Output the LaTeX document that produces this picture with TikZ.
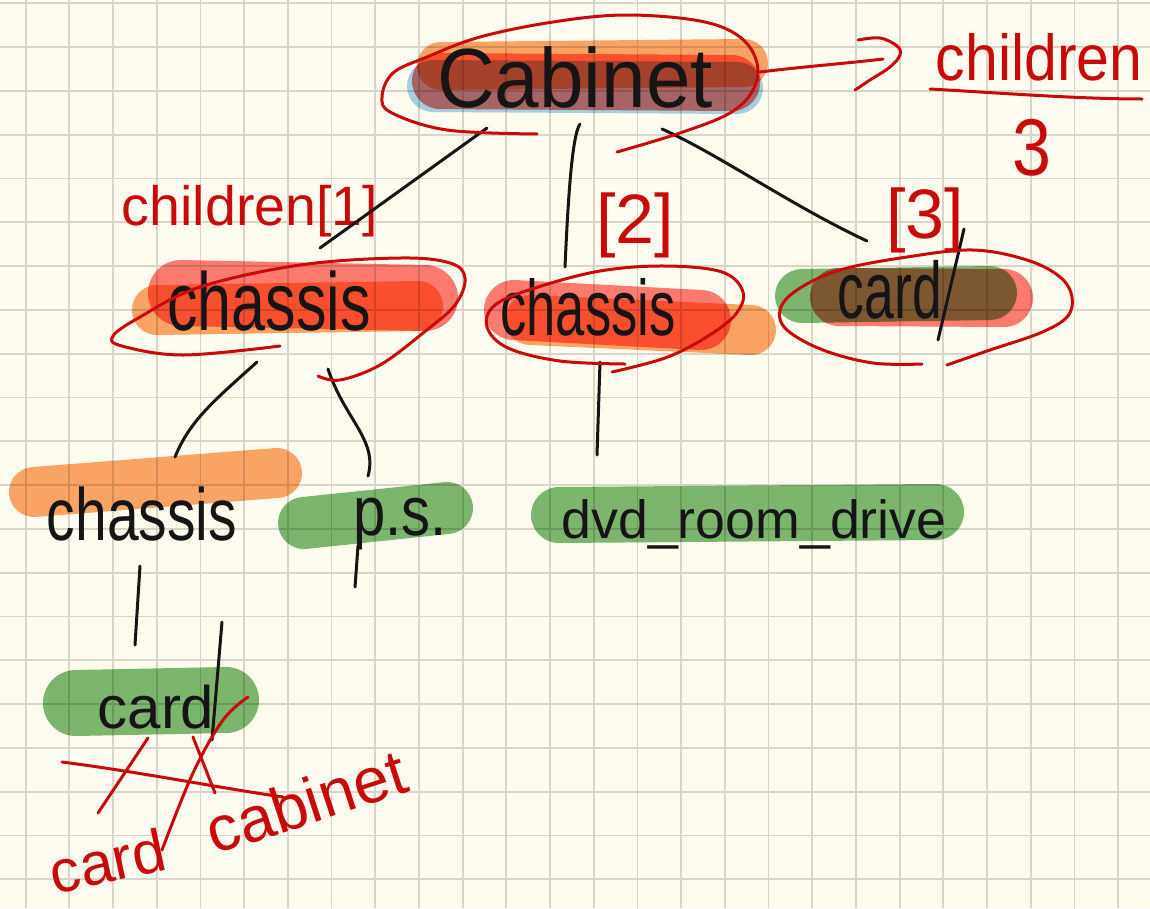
\documentclass[tikz,border=0pt]{standalone}
\usepackage{fontspec}
\setmainfont{Liberation Sans}
\usepackage{graphicx}
\definecolor{paper}{HTML}{FDFCEE}
\definecolor{gridc}{HTML}{D9D6C8}
\definecolor{inkred}{HTML}{C80A0A}
\definecolor{inkblk}{HTML}{151515}
\definecolor{hlR}{HTML}{FF7C76}
\definecolor{hlO}{HTML}{FBA66C}
\definecolor{hlB}{HTML}{A8D2EE}
\definecolor{hlG}{HTML}{7DB874}
\newcommand\hwfont[1]{\fontsize{#1}{#1}\selectfont}
\newcommand\tallish[2]{\scalebox{1}[#1]{#2}}
\begin{document}
\begin{tikzpicture}[x=1pt,y=-1pt,
  hl/.style={line width=#1, line cap=round},
  conn/.style={draw=inkblk, line width=3, line cap=round},
  redink/.style={draw=inkred, line width=3, line cap=round, line join=round},
  blktxt/.style={text=inkblk, inner sep=0, anchor=base},
  redtxt/.style={text=inkred, inner sep=0, anchor=base},
  gridline/.style={draw=gridc, line width=1.8}]
% paper
\fill[paper] (0,0) rectangle (1150,908);
\useasboundingbox (0,0) rectangle (1150,908);
\foreach \i in {0,...,26} \draw[gridline] ({25.6+43.7*\i},0) -- ++(0,908);
\foreach \j in {0,...,20} \draw[gridline] (0,{3.3+43.8*\j}) -- ++(1150,0);
% highlighters
\begin{scope}[blend mode=multiply]
  % Cabinet
  \draw[hl=52, hlB] (433,86) -- (737,88);
  \draw[hl=48, hlO] (441,66) -- (744,63);
  \draw[hl=56, hlR] (440,81) -- (732,83);
  % chassis left
  \draw[hl=66, hlR] (181,293) -- (425,298);
  \draw[hl=50, hlO] (157,310) -- (418,306);
  % chassis middle
  \draw[hl=60, hlR] (514,310) -- (701,320);
  \draw[hl=50, hlO] (530,320) -- (751,330);
  % card top
  \draw[hl=54, hlG] (802,296) -- (990,293);
  \draw[hl=58, hlR] (839,297) -- (1004,298);
  % chassis bottom
  \draw[hl=50, hlO] (34,492) -- (277,473);
  % p.s.
  \draw[hl=52, hlG] (304,523) -- (447,508);
  % dvd_room_drive
  \draw[hl=56, hlG] (559,515) -- (936,512);
  % card bottom
  \draw[hl=66, hlG] (76,703) -- (226,700);
\end{scope}
% texts
\node[blktxt, font=\hwfont{80}] (cab) at (575,107) {\tallish{1.05}{Cabinet}};
\node[blktxt, font=\hwfont{61}] (chL) at (269,330) {\tallish{1.35}{chassis}};
\node[blktxt, font=\hwfont{52.5}] (chM) at (588,335) {\tallish{1.5}{chassis}};
\node[blktxt, font=\hwfont{53.5}] (cardT) at (890,318) {\tallish{1.5}{card}};
\node[blktxt, font=\hwfont{57}] (chB) at (142,540) {\tallish{1.3}{chassis}};
\node[blktxt, font=\hwfont{58}] (ps) at (400,535) {\tallish{1.2}{p.s.}};
\node[blktxt, font=\hwfont{53.7}] (dvd) at (754,538) {dvd\_room\_drive};
\node[blktxt, font=\hwfont{60}] (cardB) at (156,728) {card};
% red labels
\node[redtxt, font=\hwfont{59}] (chtxt) at (1039,80) {\tallish{1.1}{children}};
\node[redtxt, font=\hwfont{70}] (three) at (1032,175) {\tallish{1.15}{3}};
\node[redtxt, font=\hwfont{55.5}] (ch1) at (250,225) {children[1]};
\node[redtxt, font=\hwfont{70}] (idx2) at (635,243) {[2]};
\node[redtxt, font=\hwfont{70}] (idx3) at (925,238) {[3]};
\node[redtxt, font=\hwfont{60}, rotate=12] (rcard) at (112,882) {card};
\node[redtxt, font=\hwfont{64}, rotate=18] (rcab) at (313,823) {cabinet};
% long letter strokes
\draw[conn] (964,229) -- (938,340);
\draw[conn] (222,622) -- (212,740);
\draw[conn] (358,546) -- (355,587);
% connectors
\coordinate (cab-l) at (487,128); \coordinate (chL-t) at (320,248);
\draw[conn] (cab-l) -- (chL-t);
\coordinate (cab-m) at (580,124); \coordinate (chM-t) at (565,267);
\draw[conn] (cab-m) .. controls (572,135) and (568,200) .. (chM-t);
\coordinate (cab-r) at (662,129); \coordinate (cardT-t) at (867,241);
\draw[conn] (cab-r) .. controls (720,155) and (790,205) .. (cardT-t);
\coordinate (chL-b1) at (257,362); \coordinate (chB-t) at (175,457);
\draw[conn] (chL-b1) .. controls (215,400) and (190,420) .. (chB-t);
\coordinate (chL-b2) at (328,369); \coordinate (ps-t) at (368,476);
\draw[conn] (chL-b2) .. controls (345,420) and (378,440) .. (ps-t);
\coordinate (chM-b) at (600,362); \coordinate (dvd-t) at (597,455);
\draw[conn] (chM-b) -- (dvd-t);
\coordinate (chB-b) at (140,566); \coordinate (cardB-t) at (135,645);
\draw[conn] (chB-b) -- (cardB-t);
% red ellipses
\draw[redink] plot[smooth, tension=0.6] coordinates {(537,134) (447,130) (392,113) (382,97) (393,73) (427,57) (480,37) (553,22) (625,15) (700,21) (740,37) (757,63) (753,90) (730,113) (680,133) (617,152)};
\draw[redink] plot[smooth, tension=0.6] coordinates {(280,346) (183,355) (122,346) (113,336) (140,317) (200,287) (300,265) (400,258) (450,263) (465,278) (455,305) (423,333) (380,365) (340,380) (318,376)};
\draw[redink] plot[smooth, tension=0.6] coordinates {(625,364) (560,361) (508,348) (487,327) (495,305) (535,288) (600,271) (665,266) (722,272) (743,292) (735,315) (705,338) (665,358) (612,372)};
\draw[redink] plot[smooth, tension=0.6] coordinates {(922,364) (873,363) (823,350) (787,330) (780,310) (797,290) (840,270) (907,257) (973,250) (1027,260) (1060,277) (1072,297) (1067,317) (1040,333) (990,350) (947,365)};
% arrow to children
\coordinate (cab-arrow) at (760,72); \coordinate (ch-arrow) at (883,59);
\draw[redink] (cab-arrow) .. controls (800,67) and (850,63) .. (ch-arrow);
\draw[redink] plot[smooth, tension=0.6] coordinates {(858,40) (880,38) (897,46) (900,55) (890,67) (870,80) (855,90)};
% underline of children
\draw[redink] (930,89) .. controls (1000,93) and (1080,99) .. (1142,99);
% crossing out of the bottom card
\draw[redink] (62,762) .. controls (140,772) and (220,788) .. (283,797);
\draw[redink] (148,738) -- (98,813);
\draw[redink] plot[smooth, tension=0.6] coordinates {(248,697) (223,720) (193,773) (162,850)};
\draw[redink] (193,737) -- (215,793);
\end{tikzpicture}
\end{document}
